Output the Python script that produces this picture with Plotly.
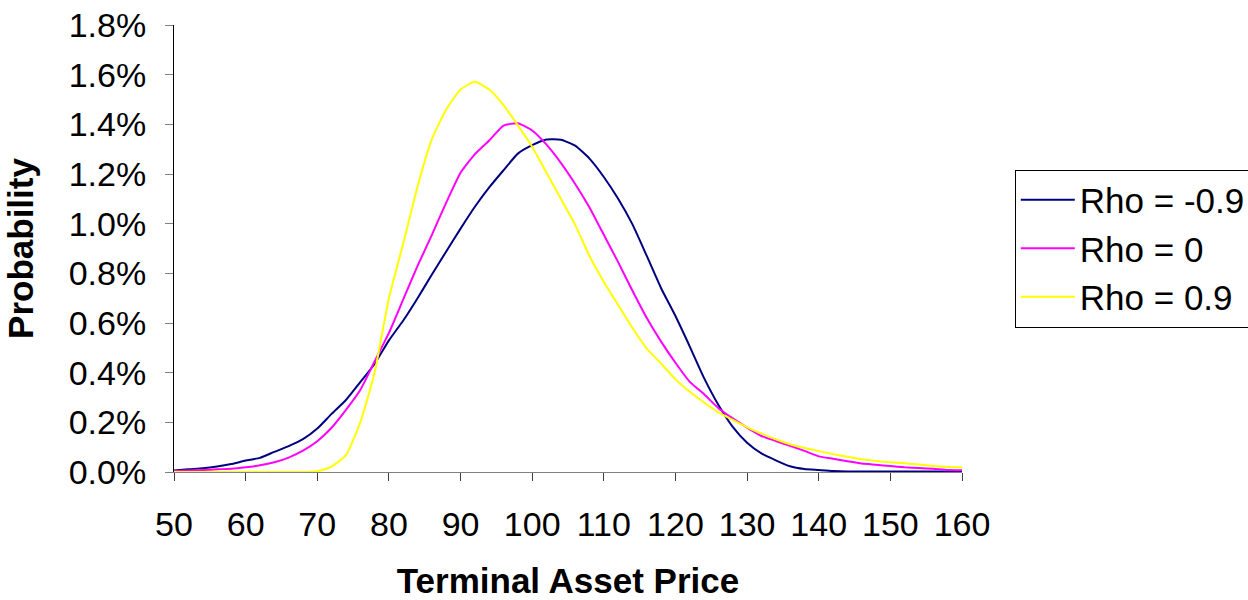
import plotly.graph_objects as go

# Terminal asset price grid (x-axis)
price = list(range(50, 162, 2))

# Probability density of the terminal price for three correlation settings (in %)
rho_neg = [0.006, 0.011, 0.015, 0.022, 0.032, 0.046, 0.057, 0.081, 0.104, 0.132,
           0.175, 0.234, 0.290, 0.362, 0.435, 0.530, 0.610, 0.700, 0.795, 0.888,
           0.980, 1.068, 1.146, 1.215, 1.282, 1.316, 1.339, 1.338, 1.314, 1.262,
           1.188, 1.100, 0.997, 0.870, 0.740, 0.628, 0.505, 0.378, 0.270, 0.182,
           0.118, 0.075, 0.047, 0.023, 0.012, 0.008, 0.004, 0.002, 0.002, 0.002,
           0.002, 0.002, 0.002, 0.002, 0.002, 0.002]
rho_zero = [0.004, 0.006, 0.008, 0.011, 0.013, 0.019, 0.027, 0.039, 0.058, 0.086,
            0.124, 0.178, 0.250, 0.330, 0.445, 0.560, 0.695, 0.830, 0.955, 1.085,
            1.205, 1.280, 1.335, 1.395, 1.404, 1.375, 1.318, 1.245, 1.160, 1.065,
            0.955, 0.845, 0.730, 0.620, 0.525, 0.440, 0.363, 0.313, 0.257, 0.216,
            0.179, 0.145, 0.125, 0.105, 0.085, 0.063, 0.053, 0.043, 0.034, 0.029,
            0.024, 0.019, 0.016, 0.013, 0.008, 0.007]
rho_pos = [0.0, 0.0, 0.0, 0.0, 0.0, 0.0, 0.0, 0.0, 0.0, 0.0,
           0.003, 0.022, 0.068, 0.200, 0.400, 0.700, 0.920, 1.150, 1.340, 1.460,
           1.540, 1.571, 1.540, 1.477, 1.396, 1.310, 1.205, 1.100, 0.995, 0.870,
           0.766, 0.672, 0.580, 0.497, 0.437, 0.373, 0.323, 0.280, 0.240, 0.210,
           0.180, 0.155, 0.132, 0.112, 0.097, 0.084, 0.072, 0.061, 0.051, 0.044,
           0.039, 0.035, 0.030, 0.024, 0.020, 0.019]

series = [
    ("Rho = -0.9", rho_neg, "#000080"),
    ("Rho = 0", rho_zero, "#FF00FF"),
    ("Rho = 0.9", rho_pos, "#FFFF00"),
]

FONT = "Liberation Sans, Arial, sans-serif"

fig = go.Figure()
for name, vals, color in series:
    fig.add_trace(go.Scatter(
        x=price,
        y=[v / 100 for v in vals],
        mode="lines",
        name=name,
        line=dict(color=color, width=2, shape="spline", smoothing=0.5),
    ))

fig.update_layout(
    width=1248,
    height=600,
    margin=dict(l=174, r=286, t=25, b=128, autoexpand=False),
    paper_bgcolor="white",
    plot_bgcolor="white",
    font=dict(family=FONT, size=34, color="black"),
    showlegend=True,
    legend=dict(
        x=1.067, y=0.5, xanchor="left", yanchor="middle",
        bordercolor="black", borderwidth=1,
        font=dict(family=FONT, size=35, color="black"),
        bgcolor="white",
        itemwidth=54,
    ),
)

fig.update_xaxes(
    range=[50, 160],
    tickvals=list(range(50, 161, 10)),
    automargin=False,
    showline=True, linecolor="#808080", linewidth=1,
    ticks="outside", ticklen=8, tickcolor="#404040",
    ticklabelstandoff=14,
    showgrid=False, zeroline=False,
    tickfont=dict(family=FONT, size=34),
    title=dict(text="<b>Terminal Asset Price</b>", font=dict(family=FONT, size=35), standoff=30),
)
fig.update_yaxes(
    range=[0, 0.018],
    tickvals=[i * 0.002 for i in range(10)],
    tickformat=".1%",
    automargin=False,
    showline=True, linecolor="black", linewidth=1,
    ticks="outside", ticklen=8, tickcolor="#808080",
    ticklabelstandoff=12,
    showgrid=False, zeroline=False,
    tickfont=dict(family=FONT, size=34),
    title=dict(text="<b>Probability</b>", font=dict(family=FONT, size=35), standoff=24),
)

fig.write_html("out.html")
